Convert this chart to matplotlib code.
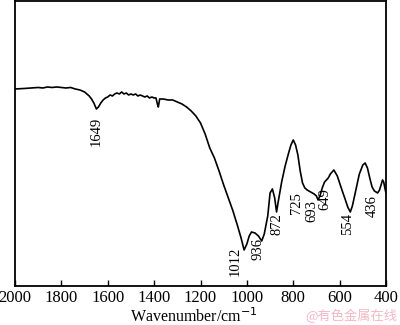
import matplotlib
matplotlib.use('Agg')
import matplotlib.pyplot as plt

# FTIR spectrum (transmittance in arbitrary units)
wavenumber = [2000, 1960, 1930, 1900, 1880, 1860, 1840, 1820, 1800, 1780, 1760,
              1740, 1720, 1700, 1690, 1680, 1670, 1660, 1649, 1640, 1630, 1620,
              1610, 1600, 1590, 1580, 1570, 1560, 1550, 1540, 1530, 1520, 1510,
              1500, 1490, 1480, 1470, 1460, 1450, 1440, 1430, 1420, 1410, 1400,
              1392, 1386, 1382, 1376, 1360, 1340, 1320, 1300, 1280, 1260, 1240,
              1220, 1200, 1180, 1160, 1140, 1120, 1100, 1080, 1060, 1040, 1025,
              1012, 1000, 990, 980, 965, 950, 936, 925, 910, 900, 890, 880, 872,
              865, 850, 835, 820, 810, 800, 790, 780, 770, 760, 750, 740, 725,
              710, 700, 693, 685, 675, 665, 649, 640, 625, 610, 600, 590, 575,
              565, 554, 545, 530, 515, 500, 490, 480, 470, 460, 450, 436, 428,
              420, 415, 410, 405, 400]
transmittance = [197, 197.5, 198, 198.5, 198, 199, 198.5, 199, 198.5, 198, 198.5,
                 197, 196, 194, 192, 190, 187, 183, 177, 179, 183, 186,
                 188, 189, 191, 190, 192, 193, 192, 194, 192, 193, 191,
                 192, 191, 192, 190, 191, 190, 189, 190, 188, 189, 188,
                 188, 182, 179, 187, 187, 186, 186, 184, 182, 179, 175,
                 170, 163, 152, 138, 128, 115, 101, 88, 75, 60, 48,
                 36, 42, 50, 54, 53, 50, 45, 52, 70, 93, 97, 88, 74,
                 84, 104, 120, 133, 141, 146, 141, 131, 115, 103, 98, 96, 94,
                 92, 90, 86, 90, 98, 104, 108, 112, 116, 110, 103, 96, 86,
                 79, 74, 80, 96, 112, 121, 123, 118, 108, 99, 95, 93, 96,
                 102, 106, 104, 98, 93]

peak_labels = ['1649', '1012', '936', '872', '725', '693', '649', '554', '436']
label_x = [1651, 1051, 952, 870, 784, 719, 663, 564, 461]
label_top = [169, 39, 48, 73, 94, 86, 98, 73, 91]

plt.rcParams['font.family'] = ['Liberation Serif', 'DejaVu Serif']

fig = plt.figure(figsize=(4, 3.25), dpi=100)
ax = fig.add_axes([0.0375, 0.12, 0.9275, 0.877])

ax.plot(wavenumber, transmittance, color='black', linewidth=1.2)

for txt, x, y in zip(peak_labels, label_x, label_top):
    ax.text(x, y, txt, rotation=90, ha='center', va='top', fontsize=10.5)

ax.set_xlim(2000, 400)
ax.set_ylim(0, 285)
ax.set_xticks(range(2000, 399, -200))
ax.set_yticks([])
ax.tick_params(axis='x', direction='in', length=4, width=1, labelsize=12, pad=3)
for sp in ax.spines.values():
    sp.set_linewidth(1.3)

ax.set_xlabel('Wavenumber/cm$^{-1}$', fontsize=11.5, labelpad=1)
ax.xaxis.set_label_coords(0.483, -0.075)

fig.text(0.993, 0.005, '@有色金属在线', color='#f4b8c4', fontsize=9.5,
         ha='right', va='bottom', family=['Noto Sans CJK SC', 'DejaVu Sans'])

fig.savefig('out.png', dpi=100)
